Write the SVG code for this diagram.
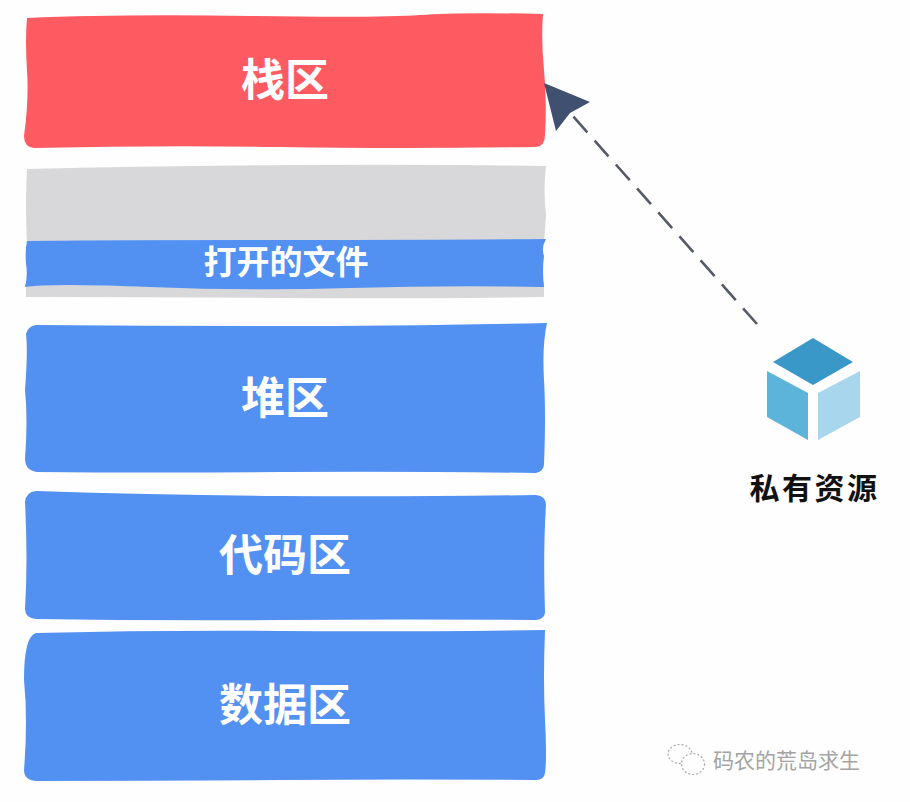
<svg xmlns="http://www.w3.org/2000/svg" width="910" height="802" viewBox="0 0 910 802">
<style>
.lbl{font-family:"Noto Sans CJK SC","Liberation Sans",sans-serif;font-weight:700;fill:#fff;text-anchor:middle}
.blue{fill:#5290f2}
.gray{fill:#d8d7da}
.wm{fill:#fefefe;stroke:#a8a8a8;stroke-width:1.2;stroke-dasharray:2 2}
</style>
<rect width="910" height="802" fill="#fefefe"/>
<g id="stack">
<path d="M27 18 Q120 14 250 16 T420 15 T543 14 Q541 40 544 70 T545 135 Q545 146 536 147 Q400 149 280 147 T34 148 Q24 147 24 136 Q29 100 27 70 T27 18Z" fill="#fd5a62"/>
<text class="lbl" x="285" y="96" font-size="44">栈区</text>
</g>
<g id="gray-region">
<path d="M27 169 Q150 166 290 165 T546 166 Q543 190 546 215 L544 242 L27 244 Q25 205 27 169Z" class="gray"/>
<path d="M26 282 L544 282 L544 297 Q400 299 280 298 T26 297Z" class="gray"/>
</g>
<g id="files">
<path d="M27 241 Q150 240 290 240 T546 239 Q541 248 544 256 Q542 270 544 287 Q450 285 350 288 T150 287 T25 287 Q28 275 26 264 Q25 250 27 241Z" class="blue"/>
<text class="lbl" x="286" y="274" font-size="33">打开的文件</text>
</g>
<g id="heap">
<path d="M36 325 Q160 326 280 326 T547 323 Q542 345 544 380 T544 464 Q544 471 536 473 Q400 471 280 472 T36 472 Q25 470 25 459 Q28 420 25 390 Q28 350 26 334 Q28 326 36 325Z" class="blue"/>
<text class="lbl" x="285" y="414" font-size="44">堆区</text>
</g>
<g id="code">
<path d="M36 491 Q160 495 280 496 T536 495 Q546 496 546 505 Q543 550 545 613 Q544 619 536 620 Q400 619 280 620 T36 619 Q25 618 25 609 Q28 560 25 502 Q26 492 36 491Z" class="blue"/>
<text class="lbl" x="285" y="571" font-size="44">代码区</text>
</g>
<g id="data">
<path d="M36 633 Q160 630 280 631 T545 630 Q543 680 545 720 T545 773 Q544 780 536 780 Q400 779 280 780 T36 781 Q24 780 24 770 Q28 720 24 680 Q24 636 36 633Z" class="blue"/>
<text class="lbl" x="285" y="721" font-size="44">数据区</text>
</g>
<g id="connectors">
<line x1="757" y1="324" x2="572" y2="115" stroke="#555a68" stroke-width="2.6" stroke-dasharray="21 11"/>
<path d="M544 83 L590 102 L570 113 L556 131Z" fill="#3f5070"/>
</g>
<g id="private-resource">
<path d="M813 338 L853 362 L813 385 L773 362Z" fill="#3a98c8"/>
<path d="M767 371 L808 393 L808 440 L767 417Z" fill="#5cb4da"/>
<path d="M860 371 L818 393 L818 440 L860 417Z" fill="#a8d6ec"/>
<text x="814.500" y="499" font-size="30" letter-spacing="2.500" text-anchor="middle" font-weight="700" fill="#111" font-family="'Noto Sans CJK SC',sans-serif">私有资源</text>
</g>
<g id="watermark">
<ellipse cx="680" cy="754" rx="12" ry="9.500" class="wm"/>
<ellipse cx="693" cy="764" rx="11.500" ry="10.500" class="wm"/>
<text x="713" y="768" font-size="21" fill="#a4a4a4" font-family="'Noto Sans CJK SC',sans-serif">码农的荒岛求生</text>
</g>
</svg>
